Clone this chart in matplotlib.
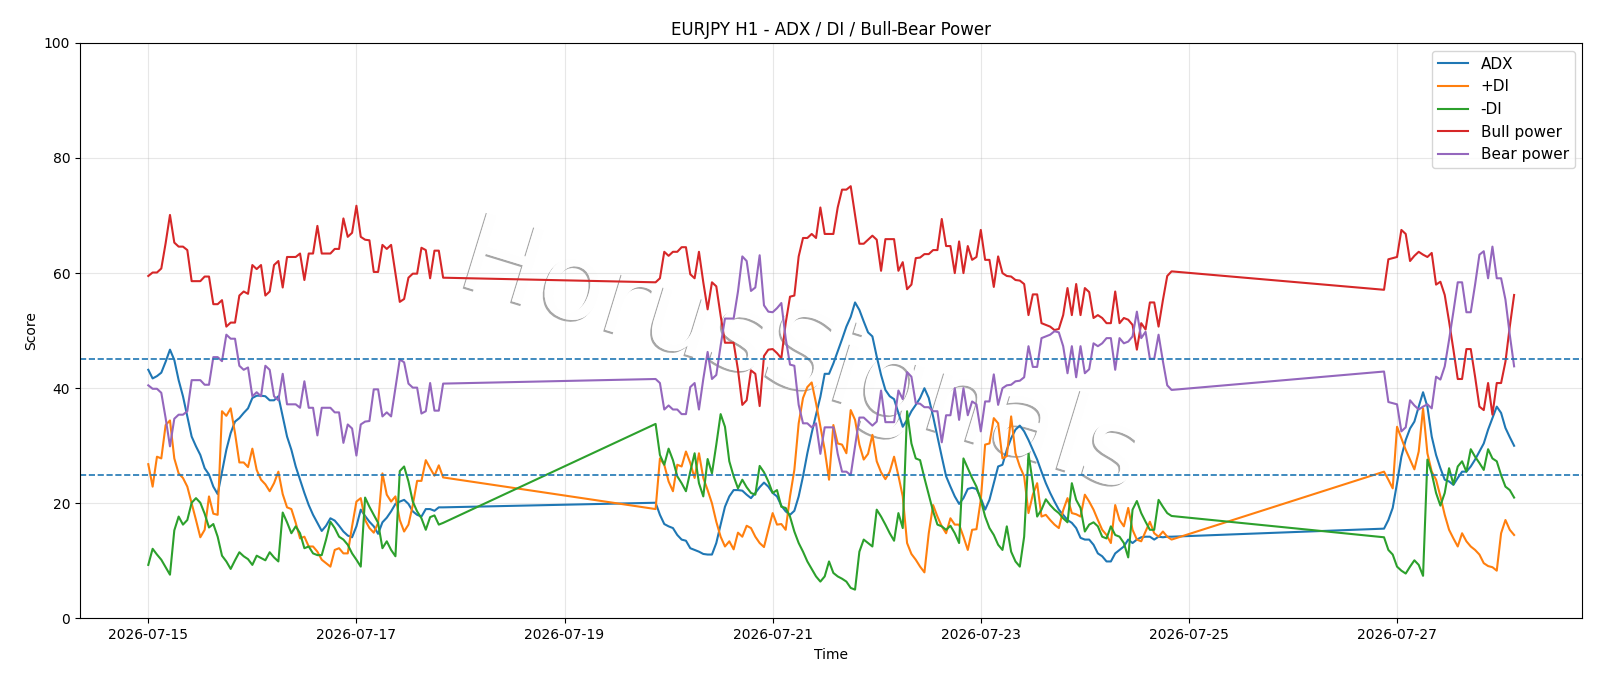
import numpy as np
import pandas as pd
import matplotlib
matplotlib.use("Agg")
import matplotlib.pyplot as plt
import matplotlib.dates as mdates
import matplotlib.patheffects as pe

# ---- time axis: three trading sessions of hourly bars ----
seg_starts = ["2026-07-15 00:00", "2026-07-19 21:00", "2026-07-26 21:00"]
seg_lengths = [69, 120, 31]

adx = [
    43.2, 41.7, 42.1, 42.7, 44.6, 46.7, 44.9, 41.4, 38.6, 35.1,
    31.6, 29.9, 28.4, 26.1, 25.0, 22.9, 21.6, 25.5, 29.3, 32.2,
    34.2, 34.8, 35.7, 36.5, 38.3, 38.7, 38.7, 38.6, 37.9, 37.9,
    38.6, 35.1, 31.6, 29.3, 26.4, 24.1, 21.8, 19.7, 18.0, 16.6,
    15.2, 16.1, 17.4, 17.0, 16.1, 15.1, 14.4, 14.1, 16.0, 18.9,
    17.8, 16.8, 16.0, 14.7, 16.7, 17.5, 18.6, 19.9, 20.3, 20.6,
    19.9, 18.6, 18.0, 17.7, 19.0, 19.0, 18.7, 19.3, 19.3,
    20.1, 18.0, 16.4, 16.0, 15.7, 14.5, 13.7, 13.5, 12.2, 11.9,
    11.6, 11.2, 11.1, 11.1, 13.1, 16.3, 19.4, 21.2, 22.3, 22.3,
    22.2, 21.5, 20.9, 21.8, 22.8, 23.6, 22.9, 21.8, 21.2, 19.6,
    18.6, 18.0, 18.7, 21.2, 24.7, 28.7, 32.2, 35.4, 38.5, 42.5,
    42.5, 44.3, 46.4, 48.5, 50.7, 52.4, 54.9, 53.6, 51.6, 49.7,
    49.0, 45.5, 42.3, 39.7, 38.6, 38.1, 35.7, 33.3, 34.5, 36.0,
    37.1, 38.3, 40.0, 38.3, 35.1, 31.6, 28.1, 24.7, 22.9, 21.2,
    19.9, 20.9, 22.5, 22.7, 22.5, 20.9, 18.9, 20.6, 23.5, 26.4,
    26.7, 29.3, 31.3, 32.8, 33.5, 32.5, 31.0, 29.3, 27.6, 25.5,
    23.5, 21.8, 20.3, 18.9, 18.0, 17.1, 16.6, 15.7, 14.0, 13.7,
    13.7, 12.8, 11.3, 10.8, 9.9, 9.9, 11.3, 11.9, 12.5, 13.7,
    13.1, 13.7, 14.1, 14.2, 14.2, 13.7, 14.2, 14.1, 14.2, 14.2,
    15.6, 17.1, 19.2, 23.5, 28.1, 31.0, 33.0, 34.2, 36.8, 39.3,
    36.8, 31.6, 28.4, 26.1, 24.1, 23.8, 23.2, 24.4, 25.5, 25.5,
    26.4, 27.6, 29.0, 30.4, 32.8, 34.8, 36.8, 35.7, 33.1, 31.5, 30.0,
]

plus_di = [
    26.8, 22.9, 28.1, 27.8, 33.6, 34.4, 27.8, 25.2, 24.4, 22.9,
    20.0, 17.1, 14.1, 15.4, 21.2, 18.2, 18.0, 36.0, 35.2, 36.5,
    32.2, 27.1, 27.1, 26.3, 29.5, 25.8, 24.1, 23.3, 22.1, 23.5,
    25.5, 21.6, 19.3, 19.0, 16.6, 13.9, 14.2, 12.5, 12.5, 11.6,
    10.2, 9.6, 9.0, 11.9, 12.2, 11.3, 11.3, 16.0, 20.3, 20.9,
    17.1, 15.7, 14.9, 16.6, 25.2, 21.5, 20.3, 21.2, 17.1, 15.1,
    16.3, 19.7, 23.9, 23.9, 27.5, 26.1, 24.8, 26.6, 24.5,
    19.0, 27.8, 26.7, 23.8, 22.1, 26.7, 26.4, 29.0, 27.0, 24.4,
    28.7, 24.4, 22.3, 20.0, 16.8, 14.2, 12.5, 13.4, 12.0, 14.9,
    14.2, 16.1, 15.7, 14.2, 13.1, 12.4, 15.4, 18.3, 16.3, 16.4,
    15.4, 21.2, 25.8, 33.9, 38.3, 40.2, 41.0, 37.4, 33.3, 29.3,
    24.1, 33.6, 30.4, 30.2, 28.7, 36.2, 34.5, 30.2, 27.6, 28.6,
    31.9, 27.3, 25.4, 24.2, 25.5, 28.1, 24.8, 21.2, 13.1, 11.2,
    10.2, 9.0, 8.0, 14.8, 19.7, 17.7, 16.0, 14.8, 17.4, 16.3,
    16.3, 14.2, 11.9, 15.4, 15.5, 20.6, 30.2, 30.4, 34.8, 33.9,
    27.8, 28.2, 35.1, 28.7, 26.4, 24.7, 18.3, 21.5, 23.5, 17.7,
    18.0, 17.1, 16.3, 15.7, 18.8, 20.9, 18.3, 18.1, 17.7, 21.5,
    20.3, 18.9, 17.1, 15.4, 14.5, 13.1, 19.7, 17.1, 16.0, 19.2,
    15.4, 13.7, 13.4, 15.1, 16.8, 14.8, 14.2, 15.1, 14.2, 13.7,
    25.5, 24.1, 22.6, 33.3, 31.3, 29.3, 27.6, 25.9, 29.0, 36.5,
    28.7, 25.5, 24.1, 21.2, 18.0, 15.4, 13.9, 12.5, 14.8, 13.4,
    12.5, 11.9, 11.1, 9.6, 9.1, 8.9, 8.3, 14.8, 17.1, 15.4, 14.5,
]

minus_di = [
    9.3, 12.1, 11.1, 10.2, 8.9, 7.6, 15.3, 17.7, 16.3, 17.1,
    20.1, 20.9, 20.1, 18.2, 15.8, 16.4, 14.2, 10.9, 9.9, 8.6,
    10.1, 11.5, 10.8, 10.3, 9.3, 10.9, 10.5, 10.1, 11.5, 10.6,
    9.9, 18.4, 16.7, 14.8, 16.0, 14.8, 12.2, 12.5, 11.3, 11.0,
    11.0, 13.7, 16.8, 15.7, 14.2, 13.7, 12.8, 11.3, 10.2, 9.0,
    21.0, 19.4, 18.0, 16.6, 12.2, 13.4, 11.9, 10.8, 25.6, 26.4,
    23.8, 20.3, 18.6, 17.4, 15.4, 17.6, 17.9, 16.3, 16.6,
    33.8, 28.4, 26.7, 29.5, 27.5, 24.7, 23.5, 22.1, 25.5, 28.7,
    23.5, 21.2, 27.7, 25.2, 30.2, 35.5, 33.3, 27.3, 24.7, 22.6,
    24.1, 22.8, 21.8, 21.5, 26.5, 25.4, 23.8, 21.8, 22.3, 19.4,
    19.2, 17.7, 15.1, 13.1, 11.6, 9.9, 8.6, 7.3, 6.4, 7.3,
    9.9, 7.9, 7.3, 6.9, 6.4, 5.3, 5.0, 11.6, 13.7, 13.1,
    12.5, 18.9, 17.7, 16.3, 14.8, 13.5, 18.3, 15.7, 36.0, 30.4,
    27.8, 27.5, 24.4, 21.5, 18.6, 16.3, 16.0, 15.4, 16.1, 14.8,
    13.1, 27.8, 26.1, 24.4, 22.9, 20.6, 17.7, 15.7, 14.5, 12.8,
    11.9, 16.0, 11.6, 9.9, 9.0, 14.2, 28.6, 23.5, 17.7, 18.9,
    20.7, 19.7, 18.9, 18.3, 17.4, 16.7, 23.5, 20.6, 19.2, 15.1,
    16.3, 16.7, 16.0, 14.2, 13.9, 16.0, 14.5, 14.2, 13.1, 10.6,
    18.9, 20.4, 18.3, 16.8, 15.4, 15.4, 20.6, 19.4, 18.3, 17.8,
    14.1, 11.9, 11.1, 9.0, 8.3, 7.8, 9.0, 10.1, 9.3, 7.4,
    27.6, 25.2, 21.8, 19.6, 21.8, 26.1, 23.3, 26.4, 27.3, 25.5,
    29.4, 28.1, 27.0, 25.8, 29.4, 27.8, 27.3, 24.9, 22.9, 22.3, 21.0,
]

bull_power = [
    59.5, 60.1, 60.1, 60.8, 65.2, 70.1, 65.3, 64.6, 64.6, 64.0,
    58.6, 58.6, 58.6, 59.4, 59.4, 54.6, 54.6, 55.3, 50.7, 51.4,
    51.4, 56.1, 56.8, 56.4, 61.4, 60.7, 61.4, 56.1, 56.8, 61.4,
    62.1, 57.5, 62.8, 62.8, 62.8, 63.4, 58.8, 63.4, 63.4, 68.2,
    63.4, 63.4, 63.4, 64.2, 64.2, 69.5, 66.3, 67.0, 71.7, 66.3,
    65.8, 65.7, 60.2, 60.2, 64.9, 64.2, 64.9, 60.0, 55.0, 55.5,
    59.2, 59.9, 59.9, 64.4, 64.0, 59.1, 63.9, 63.9, 59.2,
    58.4, 59.1, 63.7, 63.0, 63.7, 63.7, 64.5, 64.5, 59.8, 59.1,
    63.7, 58.4, 53.7, 58.4, 57.7, 52.6, 47.9, 47.9, 47.9, 43.2,
    37.1, 37.9, 43.1, 42.5, 36.9, 45.6, 46.7, 46.8, 46.1, 45.2,
    51.3, 55.9, 56.1, 62.9, 66.1, 66.1, 66.8, 66.1, 71.4, 66.8,
    66.8, 66.8, 71.4, 74.5, 74.5, 75.1, 70.1, 65.1, 65.1, 65.8,
    66.5, 65.8, 60.4, 65.9, 65.9, 65.9, 60.4, 61.9, 57.2, 58.0,
    62.6, 62.7, 63.3, 63.3, 64.0, 64.0, 69.4, 64.7, 64.7, 60.0,
    65.5, 60.0, 64.7, 62.3, 62.8, 67.5, 62.3, 62.3, 57.6, 62.9,
    60.0, 59.5, 59.4, 58.8, 58.7, 58.1, 52.7, 56.3, 56.3, 51.3,
    51.0, 50.7, 50.1, 50.3, 52.7, 57.4, 52.7, 58.1, 52.7, 57.4,
    56.7, 52.2, 52.7, 52.2, 51.3, 51.3, 56.8, 51.3, 52.2, 51.9,
    51.0, 46.7, 51.3, 50.2, 54.9, 54.9, 50.7, 55.3, 59.5, 60.3,
    57.1, 62.4, 62.6, 62.8, 67.5, 66.8, 62.1, 63.0, 63.7, 63.2,
    62.8, 63.5, 58.0, 58.5, 56.2, 51.6, 46.7, 41.6, 41.6, 46.8,
    46.8, 42.0, 36.8, 36.2, 40.9, 35.4, 40.9, 40.9, 44.6, 50.7, 56.2,
]

bear_power = [
    40.5, 39.9, 39.9, 39.2, 34.8, 29.9, 34.7, 35.4, 35.4, 36.0,
    41.4, 41.4, 41.4, 40.6, 40.6, 45.4, 45.4, 44.7, 49.3, 48.6,
    48.6, 43.9, 43.2, 43.6, 38.6, 39.3, 38.6, 43.9, 43.2, 38.6,
    37.9, 42.5, 37.2, 37.2, 37.2, 36.6, 41.2, 36.6, 36.6, 31.8,
    36.6, 36.6, 36.6, 35.8, 35.8, 30.5, 33.7, 33.0, 28.3, 33.7,
    34.2, 34.3, 39.8, 39.8, 35.1, 35.8, 35.1, 40.0, 45.0, 44.5,
    40.8, 40.1, 40.1, 35.6, 36.0, 40.9, 36.1, 36.1, 40.8,
    41.6, 40.9, 36.3, 37.0, 36.3, 36.3, 35.5, 35.5, 40.2, 40.9,
    36.3, 41.6, 46.3, 41.6, 42.3, 47.4, 52.1, 52.1, 52.1, 56.8,
    62.9, 62.1, 56.9, 57.5, 63.1, 54.4, 53.3, 53.2, 53.9, 54.8,
    48.7, 44.1, 43.9, 37.1, 33.9, 33.9, 33.2, 33.9, 28.6, 33.2,
    33.2, 33.2, 28.6, 25.5, 25.5, 24.9, 29.9, 34.9, 34.9, 34.2,
    33.5, 34.2, 39.6, 34.1, 34.1, 34.1, 39.6, 38.1, 42.8, 42.0,
    37.4, 37.3, 36.7, 36.7, 36.0, 36.0, 30.6, 35.3, 35.3, 40.0,
    34.5, 40.0, 35.3, 37.7, 37.2, 32.5, 37.7, 37.7, 42.4, 37.1,
    40.0, 40.5, 40.6, 41.2, 41.3, 41.9, 47.3, 43.7, 43.7, 48.7,
    49.0, 49.3, 49.9, 49.7, 47.3, 42.6, 47.3, 41.9, 47.3, 42.6,
    43.3, 47.8, 47.3, 47.8, 48.7, 48.7, 43.2, 48.7, 47.8, 48.1,
    49.0, 53.3, 48.7, 49.8, 45.1, 45.1, 49.3, 44.7, 40.5, 39.7,
    42.9, 37.6, 37.4, 37.2, 32.5, 33.2, 37.9, 37.0, 36.3, 36.8,
    37.2, 36.5, 42.0, 41.5, 43.8, 48.4, 53.3, 58.4, 58.4, 53.2,
    53.2, 58.0, 63.2, 63.8, 59.1, 64.6, 59.1, 59.1, 55.4, 49.3, 43.8,
]

levels = [45, 25]
tick_days = ["2026-07-15", "2026-07-17", "2026-07-19", "2026-07-21",
             "2026-07-23", "2026-07-25", "2026-07-27"]

times = pd.DatetimeIndex(np.concatenate([
    pd.date_range(s, periods=n, freq="h").values for s, n in zip(seg_starts, seg_lengths)
]))

fig, ax = plt.subplots(figsize=(16, 6.86), dpi=100)
fig.subplots_adjust(left=0.05, right=0.989, top=0.9375, bottom=0.0985)

ax.plot(times, adx, label="ADX", color="C0", lw=1.5)
ax.plot(times, plus_di, label="+DI", color="C1", lw=1.5)
ax.plot(times, minus_di, label="-DI", color="C2", lw=1.5)
ax.plot(times, bull_power, label="Bull power", color="C3", lw=1.5)
ax.plot(times, bear_power, label="Bear power", color="C4", lw=1.5)
for lv in levels:
    ax.axhline(lv, color="C0", ls="--", lw=1.2)

ax.set_ylim(0, 100)
ax.xaxis.set_major_locator(mdates.DayLocator(bymonthday=[int(d[-2:]) for d in tick_days]))
ax.xaxis.set_major_formatter(mdates.DateFormatter("%Y-%m-%d"))
ax.grid(True, alpha=0.3)
ax.set_title("EURJPY H1 - ADX / DI / Bull-Bear Power")
ax.set_xlabel("Time")
ax.set_ylabel("Score")
ax.legend(loc="upper right", fontsize=11)

ax.text(0.480, 0.452, "HorusSignals", transform=ax.transAxes, fontsize=78,
        rotation=-17, ha="center", va="center", color="white", alpha=0.92,
        zorder=1.5,
        path_effects=[pe.withSimplePatchShadow(offset=(-1.3, -1.3), shadow_rgbFace="#808080", alpha=0.7),
                      pe.Normal()])

fig.savefig("out.png", dpi=100)
